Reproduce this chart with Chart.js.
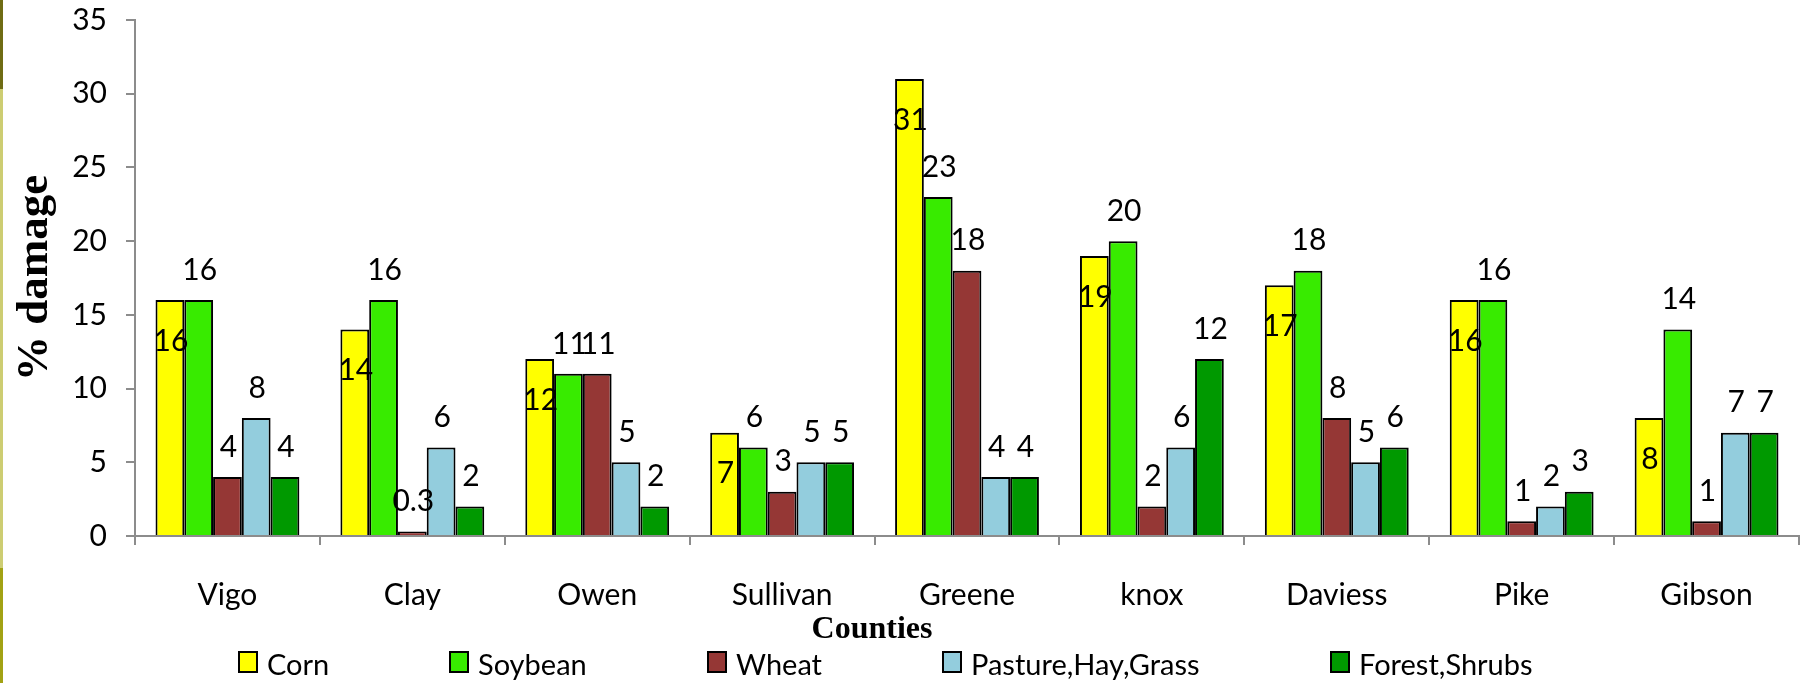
<!DOCTYPE html>
<html>
<head>
<meta charset="utf-8">
<script src="https://cdn.jsdelivr.net/npm/chart.js@4/dist/chart.umd.min.js"></script>
<style>
  html, body { margin: 0; padding: 0; background: #ffffff; }
  #wrap { position: relative; width: 1802px; height: 683px; }
  #edge {
    position: absolute; left: 0; top: 0; width: 3px; height: 683px;
    background: linear-gradient(to bottom, #6f6c14 0px, #6f6c14 89px, #cdcd72 89px, #cdcd72 568px, #a2a214 568px, #a2a214 683px);
  }
  canvas { position: absolute; left: 0; top: 0; }
</style>
</head>
<body>
<div id="wrap">
  <canvas id="c" width="1802" height="683"></canvas>
  <div id="edge"></div>
</div>
<script>
// Counties and the share of each land cover damaged (%)
const counties = ['Vigo', 'Clay', 'Owen', 'Sullivan', 'Greene', 'knox', 'Daviess', 'Pike', 'Gibson'];
const corn     = [16, 14, 12, 7, 31, 19, 17, 16, 8];
const soybean  = [16, 16, 11, 6, 23, 20, 18, 16, 14];
const wheat    = [4, 0.3, 11, 3, 18, 2, 8, 1, 1];
const pasture  = [8, 6, 5, 5, 4, 6, 5, 2, 7];
const forest   = [4, 2, 2, 5, 4, 12, 6, 3, 7];
const seriesNames = ['Corn', 'Soybean', 'Wheat', 'Pasture,Hay,Grass', 'Forest,Shrubs'];
const yTicks = [0, 5, 10, 15, 20, 25, 30, 35];

const colors = ['#ffff00', '#38eb00', '#953735', '#93cddd', '#009900'];
const seriesValues = [corn, soybean, wheat, pasture, forest];

const SANS = 'Lato, "Open Sans", sans-serif';
const SERIF = '"Liberation Serif", "DejaVu Serif", serif';
const AXIS_GREY = '#8c8c8c';

// value labels: first series sits inside the bar top, the rest above the bars
const valueLabels = {
  id: 'valueLabels',
  afterDatasetsDraw(chart) {
    const ctx = chart.ctx;
    ctx.save();
    ctx.font = '30px ' + SANS;
    ctx.fillStyle = '#000';
    ctx.textAlign = 'center';
    ctx.textBaseline = 'middle';
    chart.data.datasets.forEach((ds, i) => {
      const meta = chart.getDatasetMeta(i);
      meta.data.forEach((bar, j) => {
        const v = ds.data[j];
        const y = i === 0 ? bar.y + 41 : bar.y - 30;
        ctx.fillText(String(v), bar.x + 1, y);
      });
    });
    ctx.restore();
  }
};

// axis caption under the county names and the series key along the bottom
const captionAndKey = {
  id: 'captionAndKey',
  afterDraw(chart) {
    const ctx = chart.ctx;
    ctx.save();
    ctx.fillStyle = '#000';
    ctx.font = 'bold 32px ' + SERIF;
    ctx.textAlign = 'center';
    ctx.textBaseline = 'alphabetic';
    ctx.fillText('Counties', 872, 638);

    const keyX = [239, 450, 708, 943, 1331];
    ctx.font = '29px ' + SANS;
    ctx.textAlign = 'left';
    chart.data.datasets.forEach((ds, i) => {
      const x = keyX[i];
      ctx.fillStyle = ds.backgroundColor;
      ctx.fillRect(x, 652, 18, 20);
      ctx.strokeStyle = '#000';
      ctx.lineWidth = 2;
      ctx.strokeRect(x, 652, 18, 20);
      ctx.fillStyle = '#000';
      ctx.fillText(ds.label, x + 28, 675);
    });
    ctx.restore();
  }
};

new Chart(document.getElementById('c'), {
  type: 'bar',
  data: {
    labels: counties,
    datasets: seriesNames.map((name, i) => ({
      label: name,
      data: seriesValues[i],
      backgroundColor: colors[i],
      borderColor: '#000',
      borderWidth: 2,
      categoryPercentage: 0.778,
      barPercentage: 1.0
    }))
  },
  options: {
    responsive: false,
    animation: false,
    layout: { padding: { left: 0, top: 20, right: 3, bottom: 0 } },
    plugins: {
      legend: { display: false },
      tooltip: { enabled: false }
    },
    scales: {
      x: {
        afterFit(s) { s.height = 147; s.paddingLeft = 0; s.paddingRight = 0; },
        grid: {
          offset: true,
          drawOnChartArea: false,
          drawTicks: true,
          tickLength: 9,
          color: AXIS_GREY,
          lineWidth: 2
        },
        border: { color: AXIS_GREY, width: 2 },
        ticks: {
          color: '#000',
          font: { family: SANS, size: 30 },
          padding: 32,
          maxRotation: 0
        }
      },
      y: {
        min: 0,
        max: 35,
        afterFit(s) { s.width = 135; s.paddingTop = 0; s.paddingBottom = 0; },
        afterBuildTicks(s) { s.ticks = yTicks.map(v => ({ value: v })); },
        grid: {
          drawOnChartArea: false,
          drawTicks: true,
          tickLength: 9,
          color: AXIS_GREY,
          lineWidth: 2
        },
        border: { color: AXIS_GREY, width: 2 },
        ticks: {
          color: '#000',
          font: { family: SANS, size: 30 },
          padding: 19
        },
        title: {
          display: true,
          text: '% damage',
          color: '#000',
          font: { family: SERIF, size: 45, weight: 'bold' },
          padding: { top: 8, bottom: 0 }
        }
      }
    }
  },
  plugins: [valueLabels, captionAndKey]
});
</script>
</body>
</html>
